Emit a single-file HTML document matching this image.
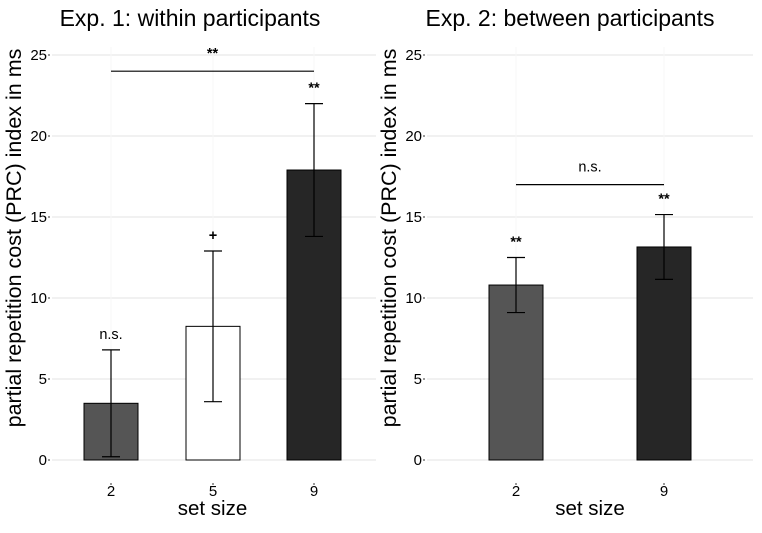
<!DOCTYPE html>
<html><head><meta charset="utf-8"><style>
body{margin:0;background:#fff;}
svg text{font-family:"Liberation Sans",Arial,sans-serif;fill:#000;}
</style></head><body>
<svg id="c" width="762" height="528"></svg>
<script>
const catsA=["2","5","9"];
const meansA=[3.5,8.25,17.9];
const lowA=[0.2,3.6,13.8];
const highA=[6.8,12.9,22.0];
const sigA=["n.s.","+","**"];
const catsB=["2","9"];
const meansB=[10.8,13.15];
const lowB=[9.1,11.15];
const highB=[12.5,15.15];
const sigB=["**","**"];
const ticks=[0,5,10,15,20,25];
const fills={"2":"#555555","5":"#ffffff","9":"#262626"};
const svg=document.getElementById('c');
const NS="http://www.w3.org/2000/svg";
function el(t,a,txt){const e=document.createElementNS(NS,t);for(const k in a)e.setAttribute(k,a[k]);if(txt!==undefined)e.textContent=txt;svg.appendChild(e);return e;}
const y=v=>460-v*16.2;
function panel(p,title,cats,means,low,high,sig,xs,x0,x1,bracket,tx){
  let t=el('text',{x:tx,y:26,'font-size':23,'text-anchor':'middle'},title);
  
  ticks.forEach(v=>{
    let g=el('line',{x1:x0,x2:x1,y1:y(v),y2:y(v),stroke:'#e3e3e3','stroke-width':1});
    
    let tk=el('line',{x1:x0-4,x2:x0-2,y1:y(v),y2:y(v),stroke:'#333'});
    
    let l=el('text',{x:x0-5,y:y(v)+5,'font-size':15,'text-anchor':'end'},v);
    
  });
  xs.forEach(x=>{let g=el('line',{x1:x,x2:x,y1:y(25)-8,y2:y(0),stroke:'#f7f7f7'});
    });
  let yt=el('text',{x:0,y:0,'font-size':21.5,'text-anchor':'middle',transform:`translate(${x0-31},238) rotate(-90)`},'partial repetition cost (PRC) index in ms');
  
  cats.forEach((c,i)=>{
    const x=xs[i];
    let b=el('rect',{x:x-27,y:y(means[i]),width:54,height:y(0)-y(means[i]),fill:fills[c],stroke:'#000','stroke-width':1});
    
    let e=el('path',{d:`M${x},${y(low[i])}V${y(high[i])}M${x-9},${y(low[i])}H${x+9}M${x-9},${y(high[i])}H${x+9}`,stroke:'#000',fill:'none','stroke-width':1.2});
    
    let s=el('text',{x:x,y:y(high[i])-11,'font-size':14.5,'font-weight':sig[i]=='n.s.'?'normal':'bold','text-anchor':'middle'},sig[i]);
    
    let tk=el('line',{x1:x,x2:x,y1:y(0)+23,y2:y(0)+25,stroke:'#333'});
    
    let l=el('text',{x:x,y:y(0)+36,'font-size':15,'text-anchor':'middle'},c);
    
  });
  let xt=el('text',{x:(xs[0]+xs[xs.length-1])/2,y:515,'font-size':20.5,'text-anchor':'middle'},'set size');
  
  let br=el('line',{x1:xs[0],x2:xs[xs.length-1],y1:y(bracket.v),y2:y(bracket.v),stroke:'#000','stroke-width':1.2});
  
  let bt=el('text',{x:(xs[0]+xs[xs.length-1])/2,y:y(bracket.v)-13,'font-size':14.5,'font-weight':bracket.t=='**'?'bold':'normal','text-anchor':'middle'},bracket.t);
  
}
panel('exp1','Exp. 1: within participants',catsA,meansA,lowA,highA,sigA,[111,213,314],52,376,{v:24,t:'**'},190);
panel('exp2','Exp. 2: between participants',catsB,meansB,lowB,highB,sigB,[516,664],427,753,{v:17,t:'n.s.'},570);
</script>
</body></html>
